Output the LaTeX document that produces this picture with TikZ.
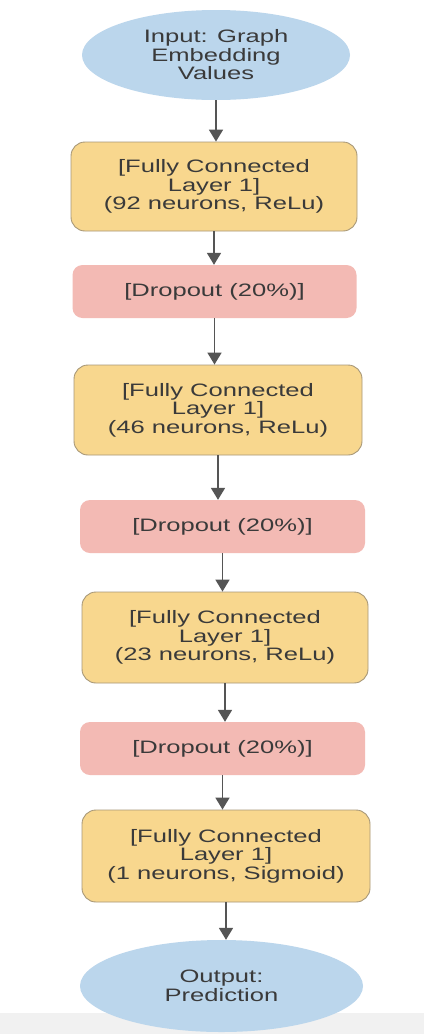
\documentclass[tikz,border=0pt]{standalone}
\usepackage{fontspec}
\setmainfont{Liberation Sans}[FakeStretch=1.42]
\usetikzlibrary{shapes.geometric,arrows.meta}
\definecolor{ellblue}{HTML}{BBD6EC}
\definecolor{fcfill}{HTML}{F8D78E}
\definecolor{fcborder}{HTML}{A89878}
\definecolor{dropfill}{HTML}{F3BAB4}
\definecolor{textgray}{HTML}{3A3A3A}
\definecolor{arrowgray}{HTML}{555555}
\definecolor{bggray}{HTML}{F1F1F1}
\begin{document}
\begin{tikzpicture}[x=1pt,y=-1pt,
  txt/.style={font=\fontsize{18}{18.5}\selectfont, text=textgray, align=center, inner sep=0pt},
  fcbox/.style={txt, rectangle, rounded corners=14pt, fill=fcfill, draw=fcborder, line width=0.9pt, minimum width=286pt, minimum height=89pt},
  dropbox/.style={txt, rectangle, rounded corners=10pt, fill=dropfill, minimum width=284pt, minimum height=53pt},
  ellnode/.style={txt, ellipse, fill=ellblue, inner sep=0pt},
  arr/.style={draw=arrowgray, line width=1.8pt, -{Triangle[width=14pt,length=12pt]}}]
\useasboundingbox (0,0) rectangle (424,1034);
\fill[white] (0,0) rectangle (424,1034);
\fill[bggray] (0,1013) rectangle (424,1034);

\node[ellnode, minimum width=268pt, minimum height=90pt] (in) at (216,55) {Input: Graph\\Embedding\\Values};
\node[fcbox] (fc1) at (214,186.5) {[Fully Connected\\Layer 1]\\(92 neurons, ReLu)};
\node[dropbox] (d1) at (214.5,291.5) {[Dropout (20\%)]};
\node[fcbox, minimum height=90pt, minimum width=288pt] (fc2) at (218,410) {[Fully Connected\\Layer 1]\\(46 neurons, ReLu)};
\node[dropbox, minimum width=285pt] (d2) at (222.5,526.5) {[Dropout (20\%)]};
\node[fcbox, minimum height=91pt] (fc3) at (225,637.5) {[Fully Connected\\Layer 1]\\(23 neurons, ReLu)};
\node[dropbox, minimum width=285pt] (d3) at (222.5,748.5) {[Dropout (20\%)]};
\node[fcbox, minimum height=92pt, minimum width=288pt] (fc4) at (226,856) {[Fully Connected\\Layer 1]\\(1 neurons, Sigmoid)};
\node[ellnode, minimum width=283pt, minimum height=92pt] (out) at (221.5,986) {Output:\\Prediction};

\draw[arr] (in.south) -- (in.south |- fc1.north);
\draw[arr] (fc1.south) -- (fc1.south |- d1.north);
\draw[arr] (d1.south) -- (d1.south |- fc2.north);
\draw[arr] (fc2.south) -- (fc2.south |- d2.north);
\draw[arr] (d2.south) -- (d2.south |- fc3.north);
\draw[arr] (fc3.south) -- (fc3.south |- d3.north);
\draw[arr] (d3.south) -- (d3.south |- fc4.north);
\draw[arr] (fc4.south) -- (fc4.south |- out.north);
\end{tikzpicture}
\end{document}
